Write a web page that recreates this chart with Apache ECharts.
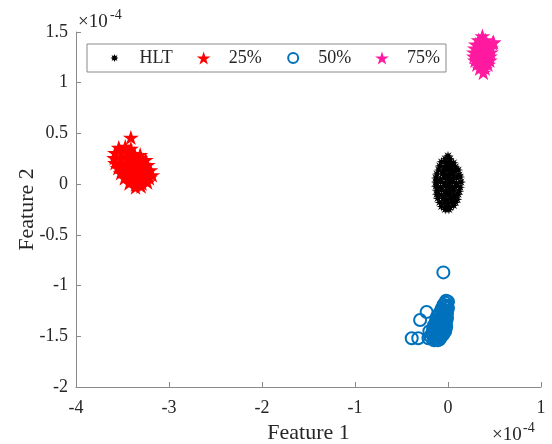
<!DOCTYPE html>
<html>
<head>
<meta charset="utf-8">
<script src="https://cdn.jsdelivr.net/npm/echarts@6/dist/echarts.min.js"></script>
<style>html,body{margin:0;padding:0;background:#fff}#c{width:552px;height:444px}</style>
</head>
<body>
<div id="c"></div>
<script>
// values in units of 1e-4
const seriesNames = ['HLT', '25%', '50%', '75%'];
const xTicks = [-4, -3, -2, -1, 0, 1];
const yTicks = [-2, -1.5, -1, -0.5, 0, 0.5, 1, 1.5];

const hlt = [
  [0.0,0.28],
  [-0.03,0.25],[0.02,0.25],
  [-0.07,0.22],[-0.02,0.21],[0.02,0.22],[0.06,0.21],
  [-0.09,0.18],[-0.04,0.17],[0.0,0.18],[0.04,0.18],[0.08,0.17],
  [-0.1,0.14],[-0.05,0.13],[-0.01,0.14],[0.03,0.14],[0.07,0.13],[0.11,0.14],
  [-0.12,0.1],[-0.06,0.1],[-0.02,0.09],[0.02,0.1],[0.06,0.1],[0.12,0.09],
  [-0.13,0.06],[-0.08,0.05],[-0.03,0.06],[0.01,0.06],[0.05,0.05],[0.09,0.06],[0.13,0.07],
  [-0.13,0.02],[-0.08,0.02],[-0.03,0.01],[0.01,0.02],[0.05,0.02],[0.09,0.01],[0.14,0.02],
  [-0.13,-0.02],[-0.08,-0.03],[-0.03,-0.02],[0.01,-0.02],[0.05,-0.03],[0.09,-0.02],[0.13,-0.03],
  [-0.12,-0.06],[-0.07,-0.06],[-0.02,-0.07],[0.02,-0.06],[0.06,-0.06],[0.12,-0.07],
  [-0.12,-0.1],[-0.07,-0.11],[-0.02,-0.1],[0.02,-0.1],[0.07,-0.11],[0.11,-0.1],
  [-0.11,-0.14],[-0.05,-0.14],[-0.01,-0.15],[0.03,-0.14],[0.07,-0.14],[0.1,-0.15],
  [-0.09,-0.18],[-0.04,-0.18],[0.0,-0.19],[0.04,-0.18],[0.08,-0.18],
  [-0.07,-0.22],[-0.02,-0.22],[0.02,-0.23],[0.06,-0.21],
  [-0.03,-0.25],[0.01,-0.25]
];

const p25 = [
  [-3.41,0.46],
  [-3.54,0.36],[-3.47,0.37],[-3.41,0.35],
  [-3.58,0.31],[-3.51,0.31],[-3.44,0.32],[-3.37,0.3],[-3.31,0.29],
  [-3.59,0.26],[-3.52,0.25],[-3.45,0.26],[-3.38,0.25],[-3.31,0.26],[-3.25,0.24],
  [-3.58,0.21],[-3.51,0.2],[-3.44,0.21],[-3.37,0.2],[-3.3,0.21],[-3.23,0.19],
  [-3.55,0.16],[-3.48,0.15],[-3.41,0.16],[-3.34,0.15],[-3.27,0.16],[-3.2,0.14],
  [-3.52,0.11],[-3.45,0.1],[-3.38,0.11],[-3.31,0.1],[-3.24,0.11],[-3.18,0.09],
  [-3.48,0.06],[-3.41,0.05],[-3.34,0.06],[-3.27,0.05],[-3.21,0.06],
  [-3.43,0.01],[-3.36,0.0],[-3.29,0.01],[-3.23,0.02],
  [-3.36,-0.03],[-3.3,-0.02]
];

const p50 = [
  [-0.05,-0.87],[-0.39,-1.52],[-0.32,-1.52],[-0.3,-1.34],[-0.23,-1.26],[-0.2,-1.45],[-0.21,-1.52],
  [-0.02,-1.15],[0.0,-1.16],
  [-0.03,-1.17],
  [-0.05,-1.19],[-0.01,-1.2],
  [-0.04,-1.21],[-0.02,-1.21],
  [-0.07,-1.23],[-0.03,-1.24],[0.0,-1.22],
  [-0.06,-1.25],[-0.02,-1.25],
  [-0.09,-1.27],[-0.05,-1.28],[-0.01,-1.27],
  [-0.1,-1.29],[-0.06,-1.29],[-0.03,-1.29],
  [-0.12,-1.31],[-0.08,-1.32],[-0.04,-1.31],[-0.01,-1.32],
  [-0.11,-1.33],[-0.07,-1.33],[-0.03,-1.33],
  [-0.13,-1.35],[-0.09,-1.36],[-0.05,-1.35],[-0.02,-1.36],
  [-0.13,-1.37],[-0.09,-1.37],[-0.05,-1.38],
  [-0.15,-1.39],[-0.11,-1.4],[-0.07,-1.39],[-0.03,-1.4],
  [-0.14,-1.41],[-0.1,-1.41],[-0.06,-1.42],[-0.02,-1.41],
  [-0.16,-1.43],[-0.12,-1.44],[-0.08,-1.43],[-0.04,-1.44],
  [-0.15,-1.45],[-0.11,-1.45],[-0.07,-1.46],[-0.03,-1.45],
  [-0.17,-1.47],[-0.13,-1.48],[-0.09,-1.47],[-0.05,-1.48],
  [-0.16,-1.49],[-0.12,-1.49],[-0.08,-1.5],
  [-0.18,-1.51],[-0.14,-1.51],[-0.1,-1.52],[-0.07,-1.5],
  [-0.13,-1.53],[-0.09,-1.53],
  [-0.15,-1.54],[-0.11,-1.54]
];

const p75 = [
  [0.37,1.46],
  [0.33,1.42],[0.4,1.42],
  [0.3,1.38],[0.36,1.38],[0.42,1.38],[0.48,1.39],
  [0.29,1.34],[0.35,1.34],[0.41,1.34],[0.46,1.34],
  [0.28,1.3],[0.34,1.3],[0.4,1.3],[0.46,1.3],
  [0.28,1.26],[0.34,1.26],[0.4,1.26],[0.45,1.26],
  [0.29,1.22],[0.35,1.22],[0.41,1.22],[0.45,1.22],
  [0.31,1.18],[0.37,1.18],[0.43,1.18],
  [0.34,1.14],[0.4,1.14],
  [0.38,1.1],
  [0.49,1.4]
];

function starD(n, inner, pad) {
  let d = pad ? 'M' + (-pad) + ' ' + (-pad) + 'M' + pad + ' ' + pad : '';
  for (let k = 0; k < 2 * n; k++) {
    const a = -Math.PI / 2 + k * Math.PI / n;
    const r = k % 2 === 0 ? 1 : inner;
    d += (k === 0 ? 'M' : 'L') + (r * Math.cos(a)).toFixed(4) + ' ' + (r * Math.sin(a)).toFixed(4);
  }
  return 'path://' + d + 'Z';
}
const asterisk = starD(8, 0.42, 0);
const pentagram = starD(5, 0.382, 0);
const asteriskIcon = starD(8, 0.55, 1.6);
const ringIcon = 'path://M-1.3 -1.3M1.3 1.3M1 0A1 1 0 1 1 -1 0A1 1 0 1 1 1 0Z';

const FONT = 'Liberation Serif';
const axisGray = '#8a8a8a';
const txt = '#262626';

const chart = echarts.init(document.getElementById('c'));
chart.setOption({
  animation: false,
  backgroundColor: '#fff',
  grid: { left: 76, right: 11, top: 32, bottom: 57, containLabel: false, outerBoundsMode: 'none' },
  legend: {
    left: 87, top: 44,
    padding: [5, 6, 5, 21],
    borderColor: '#8a8a8a', borderWidth: 1,
    itemWidth: 40, itemHeight: 13, itemGap: 24,
    textStyle: { fontFamily: FONT, fontSize: 18, color: txt },
    data: [
      { name: 'HLT', icon: asteriskIcon, itemStyle: { color: '#000', borderWidth: 0 } },
      { name: '25%', icon: pentagram, itemStyle: { color: '#ff0000', borderWidth: 0 } },
      { name: '50%', icon: ringIcon, itemStyle: { color: 'rgba(255,255,255,0)', borderColor: '#0072bd', borderWidth: 2 } },
      { name: '75%', icon: pentagram, itemStyle: { color: '#ff1aa0', borderWidth: 0 } }
    ]
  },
  xAxis: {
    type: 'value', min: xTicks[0], max: xTicks[xTicks.length - 1], interval: 1,
    name: 'Feature 1', nameLocation: 'middle', nameGap: 35, nameMoveOverlap: false,
    nameTextStyle: { fontFamily: FONT, fontSize: 22, color: txt },
    axisLine: { show: true, onZero: false, lineStyle: { color: axisGray, width: 1 } },
    axisTick: { show: true, inside: true, length: 5, lineStyle: { color: axisGray } },
    axisLabel: { fontFamily: FONT, fontSize: 18, color: txt, margin: 12 },
    splitLine: { show: false }
  },
  yAxis: {
    type: 'value', min: yTicks[0], max: yTicks[yTicks.length - 1], interval: 0.5,
    name: 'Feature 2', nameLocation: 'middle', nameGap: 38, nameMoveOverlap: false,
    nameTextStyle: { fontFamily: FONT, fontSize: 22, color: txt },
    axisLine: { show: true, onZero: false, lineStyle: { color: axisGray, width: 1 } },
    axisTick: { show: true, inside: true, length: 5, lineStyle: { color: axisGray } },
    axisLabel: { fontFamily: FONT, fontSize: 18, color: txt, margin: 8 },
    splitLine: { show: false }
  },
  graphic: [
    { type: 'text', left: 78, top: 13, style: { text: '×10', font: '19px "Liberation Serif"', fill: txt } },
    { type: 'text', left: 110, top: 8, style: { text: '-4', font: '14px "Liberation Serif"', fill: txt } },
    { type: 'text', left: 492, top: 426, style: { text: '×10', font: '19px "Liberation Serif"', fill: txt } },
    { type: 'text', left: 523, top: 421, style: { text: '-4', font: '14px "Liberation Serif"', fill: txt } }
  ],
  series: [
    { name: seriesNames[0], type: 'scatter', data: hlt, symbol: asterisk, symbolSize: 10,
      itemStyle: { color: '#000', opacity: 1 } },
    { name: seriesNames[1], type: 'scatter', data: p25, symbol: pentagram, symbolKeepAspect: true, symbolSize: 16,
      itemStyle: { color: '#ff0000', opacity: 1 } },
    { name: seriesNames[2], type: 'scatter', data: p50, symbol: 'circle', symbolSize: 12,
      itemStyle: { color: 'rgba(0,114,189,0)', borderColor: '#0072bd', borderWidth: 2, opacity: 1 } },
    { name: seriesNames[3], type: 'scatter', data: p75, symbol: pentagram, symbolKeepAspect: true, symbolSize: 16,
      itemStyle: { color: '#ff1aa0', opacity: 1 } }
  ]
});
</script>
</body>
</html>
